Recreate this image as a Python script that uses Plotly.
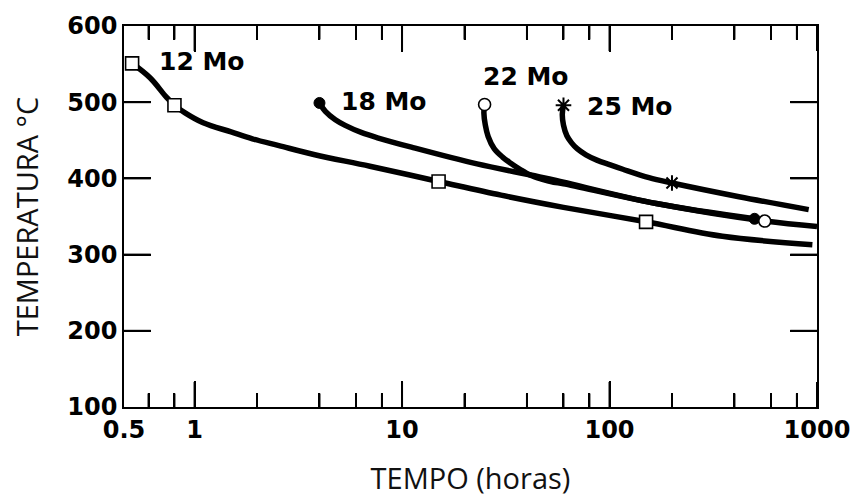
import math
import plotly.graph_objects as go

# ---- data ----
mo12_t = [0.5, 0.61, 0.73, 0.8, 0.9, 1.1, 1.5, 1.9, 2.55, 3.8, 7, 15, 30, 60, 150, 350, 950]
mo12_T = [551, 532, 507, 496, 486, 473, 461, 452, 443, 431, 416, 396, 378, 362, 343, 324, 313]
mo12_mark_t = [0.5, 0.8, 15, 150]
mo12_mark_T = [551, 496, 396, 343]

mo18_t = [4, 4.27, 4.77, 5.32, 6.4, 7.69, 11.1, 23, 48, 60, 168, 500]
mo18_T = [499, 488, 477, 469.6, 460, 453, 441, 419, 401, 395, 367, 347]
mo18_mark_t = [4, 500]
mo18_mark_T = [499, 347]

mo22_t = [25, 24.8, 25.2, 26, 27.8, 30.5, 33.4, 37, 41.6, 47, 53.8, 60, 168, 560, 1000]
mo22_T = [497, 486, 470, 455, 439, 428, 420, 412, 404, 399, 395, 393, 367, 344, 337]
mo22_mark_t = [25, 560]
mo22_mark_T = [497, 344]

mo25_t = [60, 59.2, 60, 62.3, 65.5, 69.8, 77, 86.9, 100, 116, 155, 200, 421, 912]
mo25_T = [496, 484, 470, 456, 447, 439, 431, 424, 418, 412, 401, 394, 376, 359]
mo25_mark_t = [60, 200]
mo25_mark_T = [496, 394]

labels = ["12 Mo", "18 Mo", "22 Mo", "25 Mo"]
label_t = [1.09, 8.2, 39.7, 126]
label_T = [554, 501, 534, 495]

x_tickvals = [0.457, 1, 10, 100, 1000]
x_ticktext = ["0.5", "1", "10", "100", "1000"]
x_minor = [0.6, 0.8, 2, 4, 6, 8, 20, 40, 60, 80, 200, 400, 600, 800]
y_tickvals = [100, 200, 300, 400, 500, 600]

W, H = 862, 502
M = dict(l=124, r=39, t=23, b=84)
PW = W - M["l"] - M["r"]
PH = H - M["t"] - M["b"]
XMAJ, XMIN, YLEN = 26, 14, 27

LW = 5.5
fig = go.Figure()
for t, T in [(mo12_t, mo12_T), (mo18_t, mo18_T), (mo22_t, mo22_T), (mo25_t, mo25_T)]:
    fig.add_trace(go.Scatter(x=t, y=T, mode="lines",
                             line=dict(color="black", width=LW, shape="spline", smoothing=1.0),
                             hoverinfo="skip", showlegend=False))

fig.add_trace(go.Scatter(x=mo12_mark_t, y=mo12_mark_T, mode="markers",
                         marker=dict(symbol="square", size=13, color="white",
                                     line=dict(color="black", width=1.6)), showlegend=False))
fig.add_trace(go.Scatter(x=mo18_mark_t, y=mo18_mark_T, mode="markers",
                         marker=dict(symbol="circle", size=11, color="black",
                                     line=dict(color="black", width=1)), showlegend=False))
fig.add_trace(go.Scatter(x=mo22_mark_t, y=mo22_mark_T, mode="markers",
                         marker=dict(symbol="circle", size=12, color="white",
                                     line=dict(color="black", width=1.6)), showlegend=False))
fig.add_trace(go.Scatter(x=mo25_mark_t, y=mo25_mark_T, mode="markers",
                         marker=dict(symbol="asterisk-open", size=13, color="black",
                                     line=dict(color="black", width=2)), showlegend=False))

for txt, t, T in zip(labels, label_t, label_T):
    fig.add_annotation(x=math.log10(t), y=T, xref="x", yref="y", text=txt, showarrow=False,
                       font=dict(family="DejaVu Sans", size=25, color="black", weight="bold"))

# tick marks (inside, mirrored on top/right), placed through the axes' own scales
tick_line = dict(color="black", width=2)
for v in x_tickvals[1:]:
    for y0, y1 in [(0, XMAJ / PH), (1, 1 - XMAJ / PH)]:
        fig.add_shape(type="line", xref="x", yref="y domain", x0=v, x1=v,
                      y0=y0, y1=y1, line=tick_line, opacity=1, layer="above")
for v in x_minor:
    for y0, y1 in [(0, XMIN / PH), (1, 1 - XMIN / PH)]:
        fig.add_shape(type="line", xref="x", yref="y domain", x0=v, x1=v,
                      y0=y0, y1=y1, line=tick_line, opacity=1, layer="above")
for v in y_tickvals[1:-1]:
    for x0, x1 in [(0, YLEN / PW), (1, 1 - YLEN / PW)]:
        fig.add_shape(type="line", xref="x domain", yref="y", x0=x0, x1=x1,
                      y0=v, y1=v, line=tick_line, opacity=1, layer="above")

tickfont = dict(family="DejaVu Sans", size=24, color="black", weight="bold")
fig.update_xaxes(type="log", range=[math.log10(0.457), 3.0],
                 tickmode="array", tickvals=x_tickvals, ticktext=x_ticktext,
                 ticks="inside", ticklen=XMAJ, tickwidth=2, tickcolor="black",
                 minor=dict(tickmode="array", tickvals=x_minor, ticks="inside", ticklen=XMIN,
                            tickwidth=2, tickcolor="black", showgrid=False),
                 showline=True, linecolor="black", linewidth=1.6, mirror="ticks",
                 showgrid=False, zeroline=False, tickfont=tickfont,
                 title=dict(text="TEMPO (horas)", standoff=26,
                            font=dict(family="Open Sans", size=29, color="#111")))
fig.update_yaxes(range=[100, 600], tickmode="array", tickvals=y_tickvals,
                 ticks="inside", ticklen=YLEN, tickwidth=2, tickcolor="black",
                 showline=True, linecolor="black", linewidth=1.6, mirror="ticks",
                 showgrid=False, zeroline=False, tickfont=tickfont,
                 title=dict(text="TEMPERATURA °C", standoff=20,
                            font=dict(family="Open Sans", size=29, color="#111")))
fig.update_layout(template="simple_white", width=W, height=H, margin=M,
                  plot_bgcolor="white", paper_bgcolor="white", showlegend=False)
fig.write_html("out.html")
